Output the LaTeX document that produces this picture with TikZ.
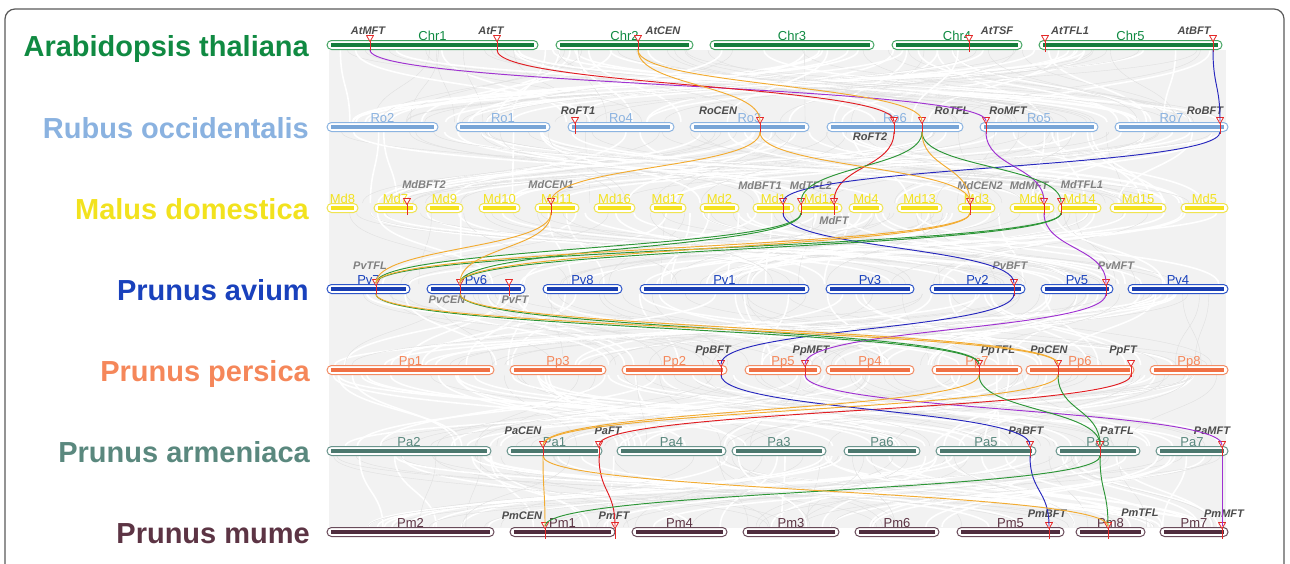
\documentclass[tikz,border=0pt]{standalone}
\usepackage{fontspec}
\setmainfont{Liberation Sans}
\setsansfont{Liberation Sans}

% species colours: outline, bar, text
\definecolor{atline}{RGB}{70,165,100}  \definecolor{atbar}{RGB}{20,125,60}   \definecolor{attext}{RGB}{16,138,66}
\definecolor{roline}{RGB}{140,180,225} \definecolor{robar}{RGB}{120,165,215} \definecolor{rotext}{RGB}{138,178,224}
\definecolor{mdline}{RGB}{240,228,80}  \definecolor{mdbar}{RGB}{245,226,30}  \definecolor{mdtext}{RGB}{242,226,30}
\definecolor{pvline}{RGB}{45,85,200}   \definecolor{pvbar}{RGB}{25,62,178}   \definecolor{pvtext}{RGB}{25,65,188}
\definecolor{ppline}{RGB}{242,140,100} \definecolor{ppbar}{RGB}{240,112,68}  \definecolor{pptext}{RGB}{245,135,90}
\definecolor{paline}{RGB}{105,148,140} \definecolor{pabar}{RGB}{75,120,110}  \definecolor{patext}{RGB}{90,136,126}
\definecolor{pmline}{RGB}{105,75,90}   \definecolor{pmbar}{RGB}{80,45,62}    \definecolor{pmtext}{RGB}{92,52,68}
% gene family colours
\definecolor{mftcol}{RGB}{160,50,210}
\definecolor{ftcol}{RGB}{225,30,35}
\definecolor{cencol}{RGB}{242,172,50}
\definecolor{tflcol}{RGB}{45,150,55}
\definecolor{bftcol}{RGB}{40,40,190}
\definecolor{markcol}{RGB}{228,40,40}

% chromosome: name, start, end, row y, species prefix
\newcommand{\chrom}[5]{%
  \draw[pill, draw=#5line] (#2,#4-4.5) rectangle (#3,#4+4.5);
  \draw[chrbar, draw=#5bar] (#2+4,#4) -- (#3-4,#4);
  \node[chrlabel, text=#5text] (#1) at ({(#2+#3)/2},#4-5) {#1};
}
% gene marker: [label style] name, x, row y, label x, label y
\newcommand{\genemark}[6][genelabel]{%
  \draw[tick] (#3,#4-8) -- (#3,#4+7);
  \draw[marker] (#3-3.5,#4-9.5) -- (#3+3.5,#4-9.5) -- (#3,#4-3.5) -- cycle;
  \coordinate (#2-t) at (#3,#4-6);
  \coordinate (#2-b) at (#3,#4+5);
  \node[#1] (#2-l) at (#5,#6) {#2};
}
% syntenic gene pair
\newcommand{\syn}[3]{\draw[#1] (#2-b) .. controls +(0,36) and +(0,-36) .. (#3-t);}

\begin{document}
\begin{tikzpicture}[x=1pt,y=-1pt]
      \tikzstyle{pill}=[line width=1pt, fill=white, rounded corners=4.5pt]
      \tikzstyle{chrbar}=[line width=3.6pt]
      \tikzstyle{chrlabel}=[anchor=base, inner sep=0pt, font=\fontsize{13}{13}\selectfont]
      \tikzstyle{genelabel}=[inner sep=0pt, text=black!70, font=\fontsize{11}{11}\selectfont\bfseries\itshape]
      \tikzstyle{pvlabel}=[genelabel, text=black!50]
      \tikzstyle{species}=[anchor=base east, inner sep=0pt, font=\fontsize{29}{29}\selectfont\bfseries]
      \tikzstyle{tick}=[draw=markcol, line width=1pt]
      \tikzstyle{marker}=[draw=markcol, fill=white, line width=0.8pt, line join=round]
      \tikzstyle{link}=[line width=0.95pt]
      \tikzstyle{mft}=[link, draw=mftcol]
      \tikzstyle{ft}=[link, draw=ftcol]
      \tikzstyle{cen}=[link, draw=cencol]
      \tikzstyle{tfl}=[link, draw=tflcol]
      \tikzstyle{bft}=[link, draw=bftcol]
      \tikzstyle{ribbon}=[draw=black!12, line width=0.4pt]
      \tikzstyle{streak}=[draw=white, line width=1.6pt]

      \useasboundingbox (0,0) rectangle (1290,563);
      \clip (0,0) rectangle (1290,563);
      \draw[black!65, line width=1.2pt, rounded corners=10pt]
          (5,620) -- (5,9) -- (1284,9) -- (1284,620);

      % Background synteny ribbons
      \fill[black!5] (329,50) rectangle (1226,528);
      \pgfmathsetseed{17}
      \foreach \ya/\yb in {50/122,132/203,213/284,294/365,375/446,456/527} {
        \foreach \k in {1,...,45} {
          \pgfmathsetmacro\xa{333+888*rnd}
          \pgfmathsetmacro\xb{333+888*rnd}
          \pgfmathsetmacro\xc{333+888*rnd}
          \pgfmathsetmacro\xd{333+888*rnd}
          \draw[streak] (\xa,\ya) .. controls (\xa,{(\ya+\yb)/2}) and (\xb,{(\ya+\yb)/2}) .. (\xb,\yb);
          \draw[ribbon] (\xc,\ya) .. controls (\xc,{(\ya+\yb)/2}) and (\xd,{(\ya+\yb)/2}) .. (\xd,\yb);
        }
      }

      % Species names
      \node[species, text=attext] (atname) at (309,56) {Arabidopsis thaliana};
      \node[species, text=rotext] (roname) at (309,138) {Rubus occidentalis};
      \node[species, text=mdtext] (mdname) at (309,219) {Malus domestica};
      \node[species, text=pvtext] (pvname) at (309,300) {Prunus avium};
      \node[species, text=pptext] (ppname) at (310,381) {Prunus persica};
      \node[species, text=patext] (paname) at (310,462) {Prunus armeniaca};
      \node[species, text=pmtext] (pmname) at (310,543) {Prunus mume};

      % Chromosomes
      \foreach \name/\a/\b in {Chr1/327/538,Chr2/556/693,Chr3/710/874,Chr4/892/1022,Chr5/1039/1222}
          {\chrom{\name}{\a}{\b}{45}{at}}
      \foreach \name/\a/\b in {Ro2/327/438,Ro1/456/550,Ro4/568/674,Ro3/690/809,Ro6/827/963,Ro5/980/1098,Ro7/1115/1228}
          {\chrom{\name}{\a}{\b}{127}{ro}}
      \foreach \name/\a/\b in {Md8/327/358,Md7/374/417,Md9/426/463,Md10/479/520,Md11/535/579,Md16/594/635,Md17/650/686,Md2/700/739,Md1/753/794,Md12/798/842,Md4/849/883,Md13/897/942,Md3/958/995,Md6/1010/1054,Md14/1058/1101,Md15/1110/1166,Md5/1181/1228}
          {\chrom{\name}{\a}{\b}{208}{md}}
      \foreach \name/\a/\b in {Pv7/327/410,Pv6/427/525,Pv8/543/622,Pv1/640/809,Pv3/826/914,Pv2/930/1025,Pv5/1041/1113,Pv4/1128/1228}
          {\chrom{\name}{\a}{\b}{289}{pv}}
      \foreach \name/\a/\b in {Pp1/327/494,Pp3/510/606,Pp2/622/727,Pp5/745/821,Pp4/826/914,Pp7/932/1022,Pp6/1026/1134,Pp8/1150/1228}
          {\chrom{\name}{\a}{\b}{370}{pp}}
      \foreach \name/\a/\b in {Pa2/327/491,Pa1/507/602,Pa4/617/726,Pa3/732/826,Pa6/844/920,Pa5/936/1036,Pa8/1056/1140,Pa7/1156/1228}
          {\chrom{\name}{\a}{\b}{451}{pa}}
      \foreach \name/\a/\b in {Pm2/327/494,Pm1/510/615,Pm4/632/727,Pm3/743/839,Pm6/855/939,Pm5/957/1064,Pm8/1076/1145,Pm7/1160/1228}
          {\chrom{\name}{\a}{\b}{532}{pm}}

      % Genes
      \genemark{AtMFT}{370}{45}{368}{31}
      \genemark{AtFT}{497}{45}{491}{31}
      \genemark{AtCEN}{638}{45}{663}{31}
      \genemark{AtTSF}{969}{45}{997}{31}
      \genemark{AtTFL1}{1045}{45}{1070}{31}
      \genemark{AtBFT}{1213}{45}{1194}{31}

      \genemark{RoFT1}{575}{127}{578}{111}
      \genemark{RoCEN}{760}{127}{718}{111}
      \genemark{RoFT2}{894}{127}{870}{137}
      \genemark{RoTFL}{922}{127}{952}{111}
      \genemark{RoMFT}{986}{127}{1008}{111}
      \genemark{RoBFT}{1220}{127}{1205}{111}

      \genemark[pvlabel]{MdBFT2}{407}{208}{424}{185}
      \genemark[pvlabel]{MdCEN1}{551}{208}{551}{185}
      \genemark[pvlabel]{MdBFT1}{783}{208}{760}{186}
      \genemark[pvlabel]{MdTFL2}{801}{208}{811}{186}
      \genemark[pvlabel]{MdFT}{834}{208}{834}{221}
      \genemark[pvlabel]{MdCEN2}{970}{208}{980}{186}
      \genemark[pvlabel]{MdMFT}{1044}{208}{1029}{186}
      \genemark[pvlabel]{MdTFL1}{1061}{208}{1082}{185}

      \genemark[pvlabel]{PvTFL}{376}{289}{370}{266}
      \genemark[pvlabel]{PvCEN}{460}{289}{447}{300}
      \genemark[pvlabel]{PvFT}{509}{289}{515}{300}
      \genemark[pvlabel]{PvBFT}{1014}{289}{1010}{266}
      \genemark[pvlabel]{PvMFT}{1106}{289}{1116}{266}

      \genemark{PpBFT}{721}{370}{713}{351}
      \genemark{PpMFT}{805}{370}{811}{351}
      \genemark{PpTFL}{979}{370}{998}{351}
      \genemark{PpCEN}{1058}{370}{1049}{351}
      \genemark{PpFT}{1131}{370}{1123}{351}

      \genemark{PaCEN}{543}{451}{523}{431}
      \genemark{PaFT}{599}{451}{608}{431}
      \genemark{PaBFT}{1030}{451}{1026}{431}
      \genemark{PaTFL}{1100}{451}{1117}{431}
      \genemark{PaMFT}{1222}{451}{1212}{431}

      \genemark{PmCEN}{545}{532}{522}{516}
      \genemark{PmFT}{615}{532}{614}{516}
      \genemark{PmBFT}{1049}{532}{1047}{514}
      \genemark{PmTFL}{1108}{532}{1140}{513}
      \genemark{PmMFT}{1222}{532}{1224}{514}

      % Homologous gene pairs
      \foreach \from/\to in {AtMFT/RoMFT,RoMFT/MdMFT,MdMFT/PvMFT,PvMFT/PpMFT,PpMFT/PaMFT,PaMFT/PmMFT}
          {\syn{mft}{\from}{\to}}
      \foreach \from/\to in {AtFT/RoFT2,RoFT2/MdFT,PpFT/PaFT,PaFT/PmFT}
          {\syn{ft}{\from}{\to}}
      \foreach \from/\to in {AtBFT/RoBFT,RoBFT/MdBFT1,MdBFT1/PvBFT,PvBFT/PpBFT,PpBFT/PaBFT,PaBFT/PmBFT}
          {\syn{bft}{\from}{\to}}
      \foreach \from/\to in {RoTFL/MdTFL2,RoTFL/MdTFL1,MdTFL2/PvTFL,MdTFL2/PvCEN,MdTFL1/PvTFL,MdTFL1/PvCEN,PvTFL/PpTFL,PvCEN/PpTFL,PpTFL/PaTFL,PpCEN/PaTFL,PaTFL/PmTFL,PaTFL/PmCEN}
          {\syn{tfl}{\from}{\to}}
      \foreach \from/\to in {AtCEN/RoCEN,AtCEN/RoTFL,RoCEN/MdCEN1,RoCEN/MdCEN2,RoTFL/MdCEN2,MdCEN1/PvTFL,MdCEN1/PvCEN,MdCEN2/PvTFL,MdCEN2/PvCEN,PvTFL/PpCEN,PvCEN/PpCEN,PpTFL/PaCEN,PpCEN/PaCEN,PaCEN/PmCEN,PaCEN/PmTFL}
          {\syn{cen}{\from}{\to}}
  \end{tikzpicture}
\end{document}
